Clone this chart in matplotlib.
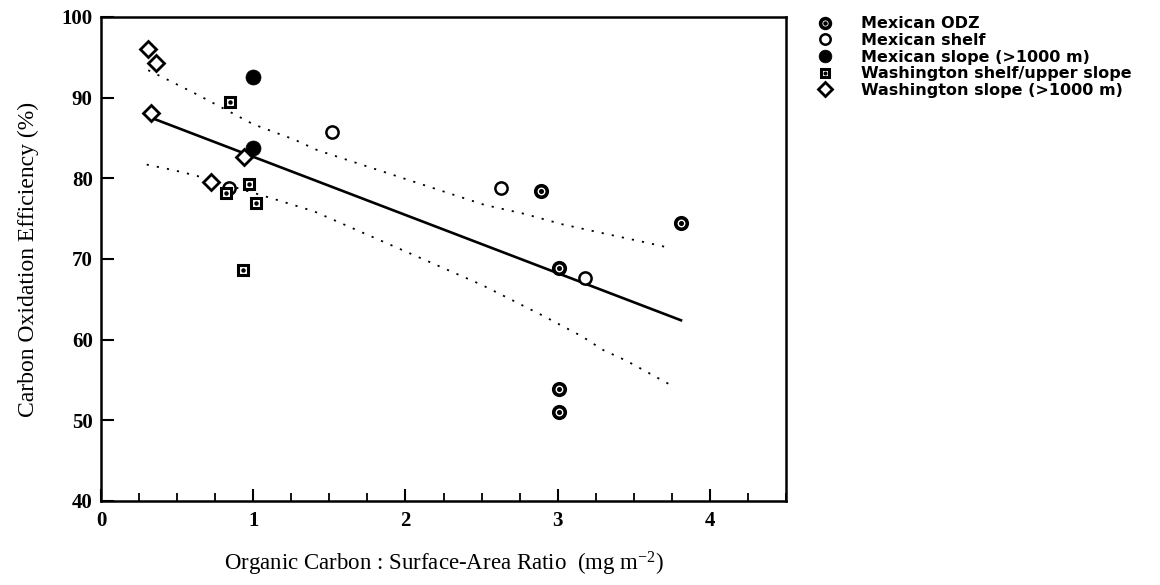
import matplotlib
matplotlib.use("Agg")
import matplotlib.pyplot as plt
from matplotlib.ticker import MultipleLocator

plt.rcParams['mathtext.fontset'] = 'custom'
plt.rcParams['mathtext.rm'] = 'Liberation Serif'
plt.rcParams['mathtext.default'] = 'rm'

# ---- data ----
odz_x = [2.89, 3.01, 3.01, 3.01, 3.81]
odz_y = [78.4, 68.9, 53.9, 51.0, 74.4]

mshelf_x = [0.84, 1.52, 2.63, 3.18]
mshelf_y = [78.8, 85.7, 78.8, 67.7]

mslope_x = [1.00, 1.00]
mslope_y = [92.5, 83.7]

wshelf_x = [0.85, 0.82, 0.97, 1.02, 0.93]
wshelf_y = [89.4, 78.2, 79.3, 77.0, 68.6]

wslope_x = [0.31, 0.36, 0.33, 0.72, 0.94]
wslope_y = [96.0, 94.3, 88.1, 79.5, 82.7]

reg_x = [0.33, 3.81]
reg_y = [87.5, 62.4]

upper_x = [0.31, 0.45, 0.64, 0.87, 1.00, 1.27, 1.42, 2.52, 2.78, 3.03, 3.32, 3.59, 3.73]
upper_y = [93.4, 92.1, 90.3, 88.0, 86.7, 84.8, 83.5, 76.7, 75.6, 74.3, 73.1, 72.0, 71.4]

lower_x = [0.30, 0.48, 0.63, 1.16, 1.40, 2.50, 2.69, 2.91, 3.16, 3.30, 3.45, 3.75]
lower_y = [81.7, 81.0, 80.3, 77.3, 75.9, 66.8, 65.0, 62.9, 60.4, 58.7, 57.4, 54.3]

labels = ["Mexican ODZ", "Mexican shelf", "Mexican slope (>1000 m)",
          "Washington shelf/upper slope", "Washington slope (>1000 m)"]

x_ticks = [0, 1, 2, 3, 4]
y_ticks = [40, 50, 60, 70, 80, 90, 100]

# ---- figure ----
fig = plt.figure(figsize=(11.6, 5.85), dpi=100)
ax = fig.add_axes([0.0871, 0.1436, 0.5905, 0.8274])

ax.plot(reg_x, reg_y, color='black', lw=1.9, zorder=2)
dot = (0, (1.2, 4.5))
ax.plot(upper_x, upper_y, color='black', lw=1.3, linestyle=dot, zorder=2)
ax.plot(lower_x, lower_y, color='black', lw=1.3, linestyle=dot, zorder=2)

odz_ring, = ax.plot(odz_x, odz_y, linestyle='none', marker='o', ms=8.3, mfc='white',
                    mec='black', mew=2.6, zorder=3)
odz_dot, = ax.plot(odz_x, odz_y, linestyle='none', marker='o', ms=2.6, mfc='black',
                   mec='black', zorder=4)

shelf_h, = ax.plot(mshelf_x, mshelf_y, linestyle='none', marker='o', ms=8.8, mfc='white',
                   mec='black', mew=1.8, zorder=3)
slope_h, = ax.plot(mslope_x, mslope_y, linestyle='none', marker='o', ms=10.8, mfc='black',
                   mec='black', mew=0.5, zorder=3)

wsq, = ax.plot(wshelf_x, wshelf_y, linestyle='none', marker='s', ms=7.6, mfc='white',
               mec='black', mew=2.2, zorder=3)
wsq_dot, = ax.plot(wshelf_x, wshelf_y, linestyle='none', marker='o', ms=2.2, mfc='black',
                   mec='black', zorder=4)

wdi, = ax.plot(wslope_x, wslope_y, linestyle='none', marker='D', ms=8.6, mfc='white',
               mec='black', mew=2.0, zorder=3)

ax.set_xlim(0, 4.5)
ax.set_ylim(40, 100)
ax.set_xticks(x_ticks)
ax.set_yticks(y_ticks)
ax.xaxis.set_minor_locator(MultipleLocator(0.25))

for s in ax.spines.values():
    s.set_linewidth(1.8)

ax.tick_params(axis='both', which='major', direction='in', length=9, width=1.5,
               top=False, right=False)
ax.tick_params(axis='x', which='minor', direction='in', length=5.5, width=1.3, top=False)
ax.tick_params(axis='y', which='minor', left=False, right=False)
for lab in ax.get_xticklabels() + ax.get_yticklabels():
    lab.set_family('Liberation Serif')
    lab.set_fontweight('bold')
    lab.set_fontsize(15)
ax.tick_params(axis='x', pad=7)
ax.tick_params(axis='y', pad=6)

ax.set_ylabel("Carbon Oxidation Efficiency (%)", family='Liberation Serif', fontsize=17,
              labelpad=16)
ax.set_xlabel("Organic Carbon : Surface-Area Ratio  (mg m$^{-2}$)", family='Liberation Serif',
              fontsize=16.5, labelpad=14)

handles = [(odz_ring, odz_dot), shelf_h, slope_h, (wsq, wsq_dot), wdi]
leg = fig.legend(handles, labels, loc='upper left', bbox_to_anchor=(0.705, 0.972),
                 frameon=False, handlelength=0.9, handletextpad=1.8, labelspacing=0.1,
                 markerscale=0.85, borderaxespad=0, borderpad=0,
                 prop={'family': 'DejaVu Sans', 'weight': 'bold', 'size': 11.5})

fig.savefig("out.png", dpi=100)
